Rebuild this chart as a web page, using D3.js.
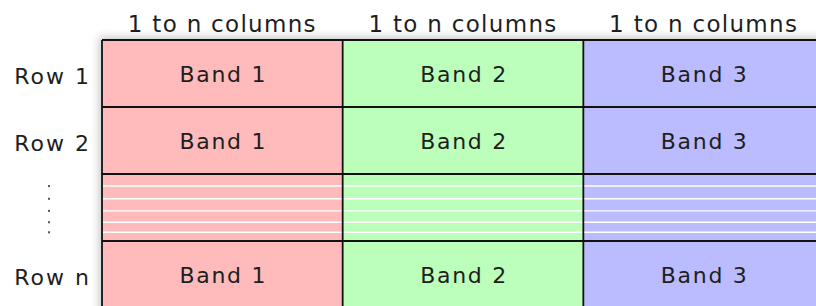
<!DOCTYPE html>
<html>
<head>
<meta charset="utf-8">
<script src="https://cdn.jsdelivr.net/npm/d3@7"></script>
<style>
  html, body { margin: 0; padding: 0; background: #fff; overflow: hidden; }
  text { font-family: "DejaVu Sans", Verdana, sans-serif; fill: #1e1e1e; }
</style>
</head>
<body>
<svg id="vis-svg"></svg>
<script>
// column headers, bands, row labels
const columns = ["1 to n columns", "1 to n columns", "1 to n columns"];
const bands = ["Band 1", "Band 2", "Band 3"];
const rows = ["Row 1", "Row 2", "...", "Row n"];
const bandColors = ["#ffbbbb", "#bbffbb", "#bbbbff"];
// the "..." row is drawn as a stack of thin white stripes (fraction of row height)
const gapStripes = [0.18, 0.37, 0.55, 0.72, 0.87];

const W = 816, H = 306;

let svg = d3.select("#vis-svg")
    .attr("width", W)
    .attr("height", H);

let xScale = d3.scaleBand()
    .domain(d3.range(columns.length))
    .range([102, 824]);

let yScale = d3.scaleBand()
    .domain(rows)
    .range([40, 308]);

// soft shadow round the grid
let defs = svg.append("defs");
defs.append("filter")
    .attr("id", "shadow")
    .attr("x", "-10%").attr("y", "-20%")
    .attr("width", "120%").attr("height", "140%")
    .append("feGaussianBlur")
    .attr("stdDeviation", 4);

svg.append("rect")
    .attr("x", xScale.range()[0] - 3)
    .attr("y", yScale.range()[0] - 3)
    .attr("width", W)
    .attr("height", H)
    .attr("fill", "#c8c8c8")
    .attr("filter", "url(#shadow)");

// cells
let cells = [];
rows.forEach((r, i) => {
    bands.forEach((b, j) => {
        cells.push({row: r, col: j, band: b, gap: r === "..."});
    });
});

svg.selectAll("rect.cell")
    .data(cells)
    .enter()
        .append("rect")
        .attr("class", "cell")
        .attr("x", d => xScale(d.col))
        .attr("y", d => yScale(d.row))
        .attr("width", xScale.bandwidth())
        .attr("height", yScale.bandwidth())
        .style("fill", d => bandColors[d.col]);

// white stripes in the gap row
let gapY = d3.scaleLinear()
    .domain([0, 1])
    .range([yScale("..."), yScale("...") + yScale.bandwidth()]);

svg.selectAll("line.stripe")
    .data(gapStripes)
    .enter()
        .append("line")
        .attr("class", "stripe")
        .attr("x1", xScale.range()[0])
        .attr("x2", W)
        .attr("y1", d => gapY(d))
        .attr("y2", d => gapY(d))
        .attr("stroke", "#fff")
        .attr("stroke-width", 1.4);

// vertical dots for the gap row label
svg.selectAll("rect.dot")
    .data(gapStripes)
    .enter()
        .append("rect")
        .attr("class", "dot")
        .attr("x", 48)
        .attr("y", d => gapY(d) - 1)
        .attr("width", 2)
        .attr("height", 2)
        .attr("fill", "#555");

// grid lines
let hLines = rows.map(r => yScale(r));
svg.selectAll("line.h")
    .data(hLines)
    .enter()
        .append("line")
        .attr("class", "h")
        .attr("x1", xScale.range()[0])
        .attr("x2", W)
        .attr("y1", d => d)
        .attr("y2", d => d)
        .attr("stroke", "#111")
        .attr("stroke-width", 1.8);

svg.selectAll("line.v")
    .data(d3.range(columns.length))
    .enter()
        .append("line")
        .attr("class", "v")
        .attr("x1", d => xScale(d))
        .attr("x2", d => xScale(d))
        .attr("y1", yScale.range()[0])
        .attr("y2", H)
        .attr("stroke", "#111")
        .attr("stroke-width", 1.8);

// band labels
svg.selectAll("text.band")
    .data(cells.filter(d => !d.gap))
    .enter()
        .append("text")
        .attr("class", "band")
        .attr("x", d => xScale(d.col) + xScale.bandwidth() / 2 + 1)
        .attr("y", d => yScale(d.row) + yScale.bandwidth() / 2 + 8)
        .attr("text-anchor", "middle")
        .style("font-size", "22px")
        .style("letter-spacing", "1.7px")
        .text(d => d.band);

// column headers
svg.selectAll("text.col")
    .data(columns)
    .enter()
        .append("text")
        .attr("class", "col")
        .attr("x", (d, i) => xScale(i) + xScale.bandwidth() / 2)
        .attr("y", 32)
        .attr("text-anchor", "middle")
        .style("font-size", "23px")
        .style("letter-spacing", "1.3px")
        .text(d => d);

// row labels
svg.selectAll("text.row")
    .data(rows.filter(r => r !== "..."))
    .enter()
        .append("text")
        .attr("class", "row")
        .attr("x", 91)
        .attr("y", d => yScale(d) + yScale.bandwidth() / 2 + 10)
        .attr("text-anchor", "end")
        .style("font-size", "22px")
        .style("letter-spacing", "2px")
        .text(d => d);
</script>
</body>
</html>
